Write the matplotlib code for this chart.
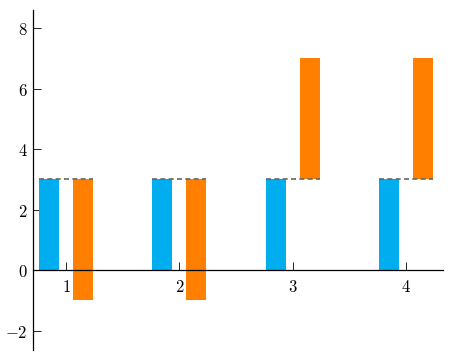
import matplotlib.pyplot as plt
import numpy as np

plt.rcParams['mathtext.fontset'] = 'cm'

categories = [1, 2, 3, 4]
blue_values = [3, 3, 3, 3]
orange_start = [3, 3, 3, 3]
orange_end = [-1, -1, 7, 7]
yticks = [-2, 0, 2, 4, 6, 8]

fig = plt.figure(figsize=(4.51, 3.55), dpi=100)
ax = fig.add_axes([0.0732, 0.014, 0.9088, 0.958])

x = np.array(categories, dtype=float)
off = 0.15
w = 0.177

ax.bar(x - off, blue_values, width=w, color='#00AEEF', zorder=2)
heights = [e - s for s, e in zip(orange_start, orange_end)]
ax.bar(x + off, heights, bottom=orange_start, width=w, color='#FF8000', zorder=2)

# dashed line linking the two bars
for xi, s in zip(x, orange_start):
    ax.plot([xi - off - w / 2, xi + off + w / 2], [s, s], color='#666666',
            linestyle=(0, (3, 2)), linewidth=1.2, zorder=3)

ax.set_xlim(0.709, 4.327)
ax.set_ylim(-2.64, 8.6)

ax.spines['top'].set_visible(False)
ax.spines['right'].set_visible(False)
ax.spines['bottom'].set_position(('data', 0))
ax.spines['bottom'].set_zorder(4)
for sp in ax.spines.values():
    sp.set_linewidth(0.9)

ax.set_xticks(categories)
ax.set_xticklabels(['$%d$' % c for c in categories], fontsize=12)
ax.set_yticks(yticks)
ax.set_yticklabels(['$%d$' % t for t in yticks], fontsize=12)
ax.tick_params(axis='both', direction='in', length=6, width=0.6)
ax.tick_params(axis='x', pad=6)
ax.tick_params(axis='y', pad=4)

fig.savefig('out.png', dpi=100)
